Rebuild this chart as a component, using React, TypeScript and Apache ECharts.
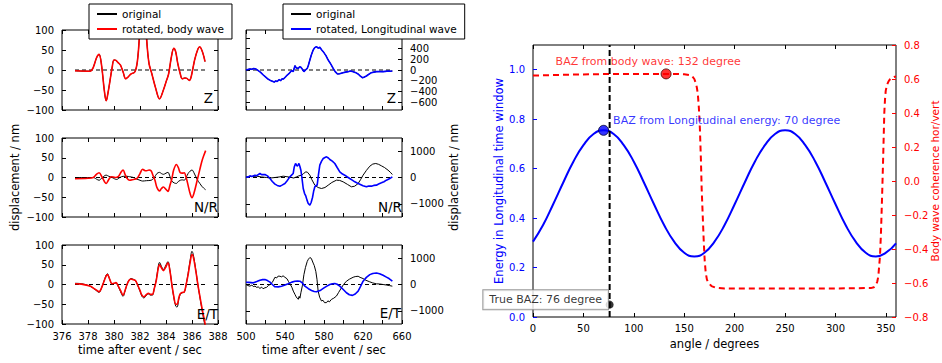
import React, { useEffect, useRef } from 'react';
import * as echarts from 'echarts';

const FONT = '"DejaVu Sans", "Liberation Sans", sans-serif';
const BLUE = '#0000ff';
const RED = '#ff0000';
const BLACK = '#000000';

// ---------- tick values ----------
const bodyTimeTicks = [376, 378, 380, 382, 384, 386, 388];
const longTimeTicks = [500, 520, 540, 560, 580, 600, 620, 640, 660];
const longTimeLabels = [500, 540, 580, 620, 660];
const bodyAmpTicks = [-100, -50, 0, 50, 100];
const longZTicks = [-600, -400, -200, 0, 200, 400, 600];
const longZLabels = [-600, -400, -200, 0, 200, 400];
const longNETicks = [-1000, 0, 1000];
const angleTicks = [0, 50, 100, 150, 200, 250, 300, 350];
const energyTicks = [0, 0.2, 0.4, 0.6, 0.8, 1.0];
const coherenceTicks = [-0.8, -0.6, -0.4, -0.2, 0, 0.2, 0.4, 0.6, 0.8];
const componentLabels = ['Z', 'N/R', 'E/T'];

// ---------- body wave window [time s, displacement nm] ----------
const bodyZRotated = [[377.0,-2],[378.15,-3],[378.4,6],[378.65,30],[378.85,39],[379.05,10],[379.25,-50],[379.4,-77],[379.55,-55],[379.7,-25],[379.85,5],[380.0,25],[380.15,24],[380.3,19],[380.5,12],[380.7,-5],[380.9,-22],[381.1,-17],[381.3,-10],[381.6,-5],[381.8,22],[381.95,80],[382.1,140],[382.25,165],[382.4,130],[382.55,60],[382.7,15],[382.9,-8],[383.2,-45],[383.5,-72],[383.8,-50],[384.0,-30],[384.2,-10],[384.4,30],[384.6,54],[384.75,45],[384.9,17],[385.1,-10],[385.25,-22],[385.45,-20],[385.6,-21],[385.8,-26],[385.95,-15],[386.2,25],[386.45,52],[386.6,58],[386.75,50],[386.9,35],[387.0,21]];
const bodyZOriginal = bodyZRotated;
const bodyNRotated = [[377.0,-3],[378.0,-2],[378.4,0],[378.65,8],[378.85,12],[379.1,0],[379.4,-15],[379.6,-5],[379.8,2],[380.1,0],[380.35,3],[380.55,14],[380.7,19],[380.85,8],[381.0,-2],[381.2,-7],[381.5,-5],[381.75,-3],[382.0,10],[382.2,21],[382.35,18],[382.5,17],[382.7,19],[382.85,17],[383.0,5],[383.15,-7],[383.3,-25],[383.5,-34],[383.65,-28],[383.8,-24],[384.0,-30],[384.15,-35],[384.3,-20],[384.45,-3],[384.6,20],[384.8,33],[384.95,25],[385.1,12],[385.25,11],[385.4,12],[385.55,0],[385.7,-20],[385.85,-40],[386.0,-51],[386.15,-40],[386.4,-7],[386.6,20],[386.75,40],[386.9,55],[387.05,68]];
const bodyNOriginal = [[377.0,0],[378.4,0],[378.65,-4],[378.85,-7],[379.1,0],[379.4,6],[379.6,3],[379.85,0],[380.2,-5],[380.45,0],[380.7,3],[381.0,3],[381.2,2],[381.5,0],[381.75,-4],[382.0,-7],[382.2,-9],[382.5,-8],[382.85,-7],[383.1,0],[383.3,10],[383.5,13],[383.65,10],[383.8,8],[384.0,11],[384.15,13],[384.3,3],[384.45,-9],[384.65,-14],[384.8,-15],[384.95,-10],[385.1,-7],[385.25,-6],[385.4,-7],[385.55,0],[385.7,10],[385.85,16],[386.0,19],[386.15,12],[386.4,-5],[386.6,-15],[386.75,-22],[386.9,-27],[387.05,-31]];
const bodyERotated = [[377.0,2],[377.5,1],[378.15,-4],[378.55,-12],[378.85,-18],[379.05,-8],[379.2,5],[379.4,22],[379.5,25],[379.65,15],[379.85,2],[380.0,3],[380.15,5],[380.3,-2],[380.5,-15],[380.7,-27],[380.85,-15],[381.0,0],[381.15,10],[381.3,14],[381.5,12],[381.65,10],[381.8,0],[382.0,-15],[382.15,-27],[382.3,-31],[382.5,-25],[382.65,-22],[382.8,-25],[382.95,-25],[383.1,-10],[383.25,10],[383.4,40],[383.5,50],[383.65,42],[383.8,35],[383.95,42],[384.15,55],[384.3,35],[384.45,0],[384.6,-30],[384.75,-50],[384.85,-50],[385.0,-32],[385.1,-23],[385.25,-20],[385.4,-19],[385.55,0],[385.7,25],[385.85,55],[386.0,76],[386.1,70],[386.3,33],[386.45,0],[386.6,-29],[386.8,-65],[387.0,-98],[387.1,-115]];
const bodyEOriginal = [[377.0,3],[377.5,2],[378.15,-4],[378.55,-13],[378.85,-20],[379.05,-8],[379.2,6],[379.4,24],[379.5,27],[379.65,15],[379.85,1],[380.0,2],[380.15,4],[380.3,-3],[380.5,-18],[380.7,-30],[380.85,-16],[381.0,0],[381.15,11],[381.3,15],[381.5,13],[381.65,10],[381.8,0],[382.0,-17],[382.15,-30],[382.3,-34],[382.5,-27],[382.65,-24],[382.8,-27],[382.95,-27],[383.1,-10],[383.25,12],[383.4,45],[383.5,56],[383.65,46],[383.8,38],[383.95,46],[384.15,58],[384.3,37],[384.45,0],[384.6,-33],[384.75,-55],[384.85,-57],[385.0,-35],[385.1,-25],[385.25,-21],[385.4,-20],[385.55,0],[385.7,28],[385.85,60],[386.0,84],[386.1,76],[386.3,35],[386.45,0],[386.6,-31],[386.8,-70],[387.0,-105],[387.1,-120]];

// ---------- longitudinal window [time s, displacement nm] ----------
const longZRotated = [[500,0],[502,10],[504,20],[506,15],[508,28],[510,20],[512.6,-12],[515,-45],[517.7,-94],[520,-130],[522.9,-175],[525,-195],[527,-210],[529,-225],[530.5,-205],[532,-215],[534,-180],[535.5,-200],[537,-165],[538.2,-170],[540,-140],[542.3,-94],[544,-70],[545.7,-31],[547,-10],[548.5,-30],[550.2,81],[551.5,40],[553.6,30],[555,60],[556.3,50],[558,10],[559.4,-31],[561,0],[562.8,30],[564,90],[565.5,187],[567,280],[568.9,375],[570.5,420],[572.3,437],[574,410],[575.7,425],[577.5,380],[579.2,344],[582,270],[584.3,187],[587,110],[589.4,30],[591.5,-30],[593.8,-75],[596,-70],[599.6,-50],[602,-40],[604.7,-31],[607,-20],[609.9,-31],[612,-45],[615,-75],[617,-110],[619.4,-144],[621,-135],[623.5,-112],[626,-80],[628.6,-50],[631,-40],[633.8,-31],[637,-28],[640.6,-31],[643,-25],[645.7,-19],[648,-22],[650.1,-19]];
const longZOriginal = longZRotated;
const longNRotated = [[500,25],[502,10],[504,63],[506,40],[509.2,89],[511,70],[514.3,152],[516,110],[519.4,114],[522,60],[524.6,-38],[527,-150],[529.7,-253],[532,-300],[534.8,-329],[537,-290],[539.9,-228],[542,-130],[545,25],[547,100],[548.4,152],[549.5,400],[550.8,532],[552.5,430],[553.5,480],[554.3,532],[555.3,420],[556.3,278],[557.5,-50],[558.7,-418],[560,-600],[561.4,-709],[562.5,-850],[563.8,-987],[565.5,-1050],[566.8,-950],[568.2,-760],[569.5,-500],[570.6,-354],[572,-300],[573,-291],[574.3,100],[575.7,468],[577.5,620],[579.2,721],[581,760],[582.6,785],[584.5,740],[586,683],[588.5,620],[591.1,532],[593.5,380],[596.2,215],[599,130],[601.3,89],[604,20],[606.4,-38],[609,-100],[611.6,-164],[614,-210],[616.7,-253],[620,-310],[623.5,-354],[626,-320],[628.6,-329],[631,-300],[633.8,-291],[636,-250],[638.9,-203],[641.5,-160],[644,-101],[647,-50],[650.1,25]];
const longNOriginal = [[500,25],[505,40],[510.9,50],[516,20],[521.2,0],[525,-20],[529.7,0],[534,20],[538.2,50],[542,30],[546.7,0],[549,-20],[551.9,25],[554,60],[557,89],[559,150],[561.4,215],[563,200],[565.5,89],[567.5,-80],[570.6,-291],[574,-380],[577.4,-418],[581,-380],[584.3,-291],[588,-190],[592.8,-101],[596,-110],[599.6,-164],[604,-260],[608.1,-354],[611.5,-330],[615,-228],[617.5,-80],[620.1,89],[623.5,270],[627,430],[630,510],[633.1,532],[636,500],[638.9,443],[642,380],[645.7,278],[648,200],[650.1,114]];
const longERotated = [[500,88],[503,80],[507.5,63],[511,110],[514.3,163],[517,185],[519.4,188],[522,150],[524.6,88],[527,0],[529.7,-88],[533,-90],[536.5,-63],[540,-20],[543.3,25],[547,90],[550.2,125],[553,135],[555.3,125],[558,50],[560.4,-63],[564,-160],[567.2,-225],[570,-265],[572.3,-275],[576,-230],[579.2,-150],[582.5,-70],[586,0],[588.5,30],[591.1,38],[593.5,10],[596.2,-63],[600,-200],[603,-313],[606,-390],[609.2,-413],[612,-360],[615,-250],[617.5,-70],[620.1,125],[623.5,270],[627,375],[630,420],[633.8,438],[637,410],[640.6,350],[644,280],[646.7,225],[650.1,125]];
const longEOriginal = [[500,0],[502,-40],[504,-63],[506,-20],[507.5,-80],[509.2,-63],[511,-110],[512.5,-90],[514.3,-150],[516,-100],[517.5,-160],[519.4,-125],[521,-110],[523,-40],[524.6,0],[527,80],[529.7,275],[531.5,250],[533,320],[534.8,313],[536.5,290],[538,330],[539.9,275],[542,220],[543.5,120],[545,25],[547,-100],[548.5,-250],[550.2,-375],[551.5,-470],[552.5,-520],[553.6,-563],[554.5,-450],[555.3,-520],[556.3,-313],[557.8,-50],[559.4,375],[561,650],[562.8,875],[564,960],[565.5,1025],[567,990],[568.9,813],[570,720],[571.6,500],[572.8,200],[574,-250],[575.5,-480],[577.4,-625],[579,-600],[580.5,-690],[582.6,-688],[584,-620],[585.5,-660],[587.7,-563],[590,-520],[592.8,-438],[595,-300],[597.9,-125],[600,0],[603,125],[606,200],[609.9,275],[612,300],[615,313],[617,270],[620.1,225],[623,160],[627,100],[630,60],[633.8,25],[637,20],[640.6,0],[644,-20],[647,-40],[650.1,-63]];

// ---------- back-azimuth scan ----------
const angleDeg = [0,10,20,30,40,50,60,70,80,90,100,110,120,130,140,150,160,170,180,190,200,210,220,230,240,250,260,270,280,290,300,310,320,330,340,350,360];
const energy = [0.305,0.372,0.456,0.544,0.628,0.695,0.740,0.755,0.740,0.695,0.628,0.544,0.456,0.372,0.305,0.260,0.245,0.260,0.305,0.372,0.456,0.544,0.628,0.695,0.740,0.755,0.740,0.695,0.628,0.544,0.456,0.372,0.305,0.260,0.245,0.260,0.298];
const coherence = [[0,0.62],[20,0.623],[40,0.626],[60,0.628],[80,0.63],[100,0.63],[120,0.63],[140,0.63],[150,0.628],[155,0.623],[158,0.615],[160,0.6],[161.5,0.575],[162.5,0.55],[163.5,0.51],[164.5,0.43],[165.5,0.31],[166.5,0.13],[167.3,-0.05],[168.3,-0.2],[169.3,-0.35],[170.3,-0.47],[171.3,-0.54],[172.5,-0.58],[174,-0.6],[177,-0.618],[181,-0.627],[190,-0.632],[220,-0.632],[260,-0.632],[300,-0.632],[330,-0.63],[335,-0.63],[338,-0.625],[340,-0.615],[341.5,-0.59],[342.5,-0.56],[343.3,-0.5],[344.1,-0.445],[345,-0.32],[345.8,-0.17],[346.4,-0.05],[347.2,0.12],[347.8,0.26],[348.4,0.4],[349.1,0.48],[349.8,0.53],[351,0.565],[352.5,0.585],[354,0.598],[356,0.607],[358,0.612],[360,0.615]];
const bazLongitudinal = [70, 0.755];
const bazBody = [132, 0.63];
const bazTrue = [76, 0.05];
const trueBazLine = [[76, 0], [76, 1.1]];

// ---------- layout ----------
const ROWS = [{ top: 30, height: 80 }, { top: 138, height: 79 }, { top: 245, height: 79 }];
const COLS = [{ left: 62, width: 156 }, { left: 246, width: 156 }];

const fmt = (d: number) => (v: number) => (v < 0 ? '\u2212' : '') + Math.abs(v).toFixed(d);
const txt = (size: number, color = BLACK) => ({ fontFamily: FONT, fontSize: size, color });

function axisX(gridIndex: number, min: number, max: number, ticks: number[], labels: number[], show: boolean, position: string, extra: any = {}) {
  return {
    type: 'value', gridIndex, min, max, position,
    axisLine: { show: false, onZero: false }, splitLine: { show: false },
    axisTick: { show: true, inside: true, length: 4, customValues: ticks, lineStyle: { color: BLACK, width: 1 } },
    axisLabel: { show, customValues: labels, margin: 7, formatter: fmt(0), ...txt(10) },
    nameMoveOverlap: false,
    ...extra,
  };
}
function axisY(gridIndex: number, min: number, max: number, ticks: number[], labels: number[], show: boolean, position: string, extra: any = {}, tickColor = BLACK, labelColor = BLACK, dec = 0) {
  return {
    type: 'value', gridIndex, min, max, position,
    axisLine: { show: false, onZero: false }, splitLine: { show: false },
    axisTick: { show: true, inside: true, length: 4, customValues: ticks, lineStyle: { color: tickColor, width: 1 } },
    axisLabel: { show, customValues: labels, margin: 8, formatter: fmt(dec), ...txt(10, labelColor) },
    nameMoveOverlap: false,
    ...extra,
  };
}

function line(name: string, data: any, xi: number, yi: number, color: string, width: number, extra: any = {}) {
  return {
    type: 'line', name, data, xAxisIndex: xi, yAxisIndex: yi, symbol: 'none', showSymbol: false,
    lineStyle: { color, width }, itemStyle: { color }, emphasis: { disabled: true }, silent: true,
    ...extra,
  };
}

function buildOption() {
  const grids: any[] = [];
  const xAxes: any[] = [];
  const yAxes: any[] = [];
  const series: any[] = [];
  const graphics: any[] = [];

  const panels = [
    { col: 0, row: 0, orig: bodyZOriginal, rot: bodyZRotated, name: 'rotated, body wave', color: RED, yMin: -100, yMax: 100, yTicks: bodyAmpTicks, yLabels: bodyAmpTicks },
    { col: 0, row: 1, orig: bodyNOriginal, rot: bodyNRotated, name: 'rotated, body wave', color: RED, yMin: -100, yMax: 100, yTicks: bodyAmpTicks, yLabels: bodyAmpTicks },
    { col: 0, row: 2, orig: bodyEOriginal, rot: bodyERotated, name: 'rotated, body wave', color: RED, yMin: -100, yMax: 100, yTicks: bodyAmpTicks, yLabels: bodyAmpTicks },
    { col: 1, row: 0, orig: longZOriginal, rot: longZRotated, name: 'rotated, Longitudinal wave', color: BLUE, yMin: -750, yMax: 750, yTicks: longZTicks, yLabels: longZLabels },
    { col: 1, row: 1, orig: longNOriginal, rot: longNRotated, name: 'rotated, Longitudinal wave', color: BLUE, yMin: -1500, yMax: 1500, yTicks: longNETicks, yLabels: longNETicks },
    { col: 1, row: 2, orig: longEOriginal, rot: longERotated, name: 'rotated, Longitudinal wave', color: BLUE, yMin: -1500, yMax: 1500, yTicks: longNETicks, yLabels: longNETicks },
  ];

  const cornerPos = [
    [[213, 105], [218, 213.5], [218, 321]],
    [[396, 105], [402, 213.5], [401, 320]],
  ];

  panels.forEach((p, g) => {
    const c = COLS[p.col];
    const r = ROWS[p.row];
    grids.push({ left: c.left, top: r.top, width: c.width, height: r.height, show: true, borderColor: BLACK, borderWidth: 1, backgroundColor: 'transparent', outerBoundsMode: 'none', containLabel: false });
    const isBody = p.col === 0;
    const bottom = p.row === 2;
    const xMin = isBody ? 376 : 500;
    const xMax = isBody ? 388 : 660;
    const xTicks = isBody ? bodyTimeTicks : longTimeTicks;
    const xLabels = isBody ? bodyTimeTicks : longTimeLabels;
    const xName = bottom ? { name: 'time after event / sec', nameLocation: 'middle', nameGap: 20, nameTextStyle: txt(11.5) } : {};
    xAxes.push(axisX(g, xMin, xMax, xTicks, xLabels, bottom, 'bottom', xName));
    xAxes.push(axisX(g, xMin, xMax, xTicks, xLabels, false, 'top'));
    const yName = p.row === 1 ? { name: 'displacement / nm', nameLocation: 'middle', nameGap: isBody ? 41 : 46, nameTextStyle: txt(11.5) } : {};
    yAxes.push(axisY(g, p.yMin, p.yMax, p.yTicks, p.yLabels, true, isBody ? 'left' : 'right', yName));
    yAxes.push(axisY(g, p.yMin, p.yMax, p.yTicks, p.yLabels, false, isBody ? 'right' : 'left'));

    const xi = 2 * g, yi = 2 * g;
    const t0 = p.rot[0][0];
    const t1 = p.rot[p.rot.length - 1][0];
    series.push(line('zero', [[t0, 0], [Math.min(t1, isBody ? 387 : 650), 0]], xi, yi, BLACK, 1, { lineStyle: { color: BLACK, width: 1, type: [4, 3] } }));
    series.push(line('original', p.orig, xi, yi, BLACK, 1, { smooth: isBody ? 0.35 : false }));
    series.push(line(p.name, p.rot, xi, yi, p.color, 1.6, { smooth: isBody ? 0.35 : false }));

    const [cx, cy] = cornerPos[p.col][p.row];
    graphics.push({ type: 'text', x: cx, y: cy, z: 20, style: { text: componentLabels[p.row], align: 'right', verticalAlign: 'bottom', fontFamily: FONT, fontSize: 13.5, fill: BLACK } });
  });

  // big back-azimuth chart (grid 6)
  grids.push({ left: 533, top: 45, width: 363, height: 272, show: true, borderColor: BLACK, borderWidth: 1, backgroundColor: 'transparent', outerBoundsMode: 'none', containLabel: false });
  xAxes.push(axisX(6, 0, 360, angleTicks, angleTicks, true, 'bottom', { name: 'angle / degrees', nameLocation: 'middle', nameGap: 21, nameTextStyle: txt(11.5), axisLabel: { show: true, customValues: angleTicks, margin: 6, formatter: fmt(0), ...txt(10) } }));
  xAxes.push(axisX(6, 0, 360, angleTicks, angleTicks, false, 'top'));
  yAxes.push(axisY(6, 0, 1.1, energyTicks, energyTicks, true, 'left', { name: 'Energy in Longitudinal time window', nameLocation: 'middle', nameGap: 28, nameTextStyle: txt(11.5, BLUE) }, BLUE, BLUE, 1));
  yAxes.push(axisY(6, -0.8, 0.8, coherenceTicks, coherenceTicks, true, 'right', { name: 'Body wave coherence hor/vert', nameLocation: 'middle', nameGap: 33, nameTextStyle: { ...txt(10.5, RED), lineHeight: 12 } }, RED, RED, 1));

  series.push(line('energy', angleDeg.map((a, i) => [a, energy[i]]), 12, 12, BLUE, 2, { smooth: true }));
  series.push(line('coherence', coherence, 12, 13, RED, 2, { lineStyle: { color: RED, width: 2, type: [6, 4] } }));
  series.push(line('true baz', trueBazLine, 12, 12, BLACK, 2, { lineStyle: { color: BLACK, width: 2, type: [6, 3] } }));
  series.push({
    type: 'scatter', name: 'baz body', xAxisIndex: 12, yAxisIndex: 13, data: [bazBody], symbolSize: 10, z: 5,
    itemStyle: { color: RED, borderColor: '#400000', borderWidth: 1 }, silent: true, emphasis: { disabled: true },
    label: { show: true, formatter: 'BAZ from body wave: 132 degree', position: [-105, -7], align: 'left', verticalAlign: 'middle', ...txt(11, RED) },
  });
  series.push({
    type: 'scatter', name: 'baz long', xAxisIndex: 12, yAxisIndex: 12, data: [bazLongitudinal], symbolSize: 10, z: 5,
    itemStyle: { color: BLUE, borderColor: '#000030', borderWidth: 1 }, silent: true, emphasis: { disabled: true },
    label: { show: true, formatter: 'BAZ from Longitudinal energy: 70 degree', position: [15, -4], align: 'left', verticalAlign: 'middle', ...txt(11, BLUE) },
  });
  series.push({
    type: 'scatter', name: 'baz true', xAxisIndex: 12, yAxisIndex: 12, data: [bazTrue], symbolSize: 8, z: 5,
    itemStyle: { color: BLACK }, silent: true, emphasis: { disabled: true },
    label: { show: true, formatter: 'True BAZ: 76 degree', position: [2.4, -1], align: 'right', verticalAlign: 'middle', backgroundColor: '#fff', borderColor: '#808080', borderWidth: 1, padding: [4, 6, 4, 6], ...txt(11, BLACK) },
  });

  const legendBase = {
    orient: 'vertical', top: 4, backgroundColor: '#fff', borderColor: BLACK, borderWidth: 1, borderRadius: 0,
    padding: [4, 8, 4, 8], itemGap: 3, itemWidth: 20, itemHeight: 2, selectedMode: false, z: 10,
    textStyle: { fontFamily: FONT, fontSize: 10.5, color: BLACK, lineHeight: 12 },
  };

  return {
    animation: false,
    backgroundColor: '#fff',
    grid: grids,
    xAxis: xAxes,
    yAxis: yAxes,
    series,
    legend: [
      { ...legendBase, left: 89, data: [{ name: 'original', icon: 'rect' }, { name: 'rotated, body wave', icon: 'rect' }] },
      { ...legendBase, left: 283, data: [{ name: 'original', icon: 'rect' }, { name: 'rotated, Longitudinal wave', icon: 'rect' }] },
    ],
    graphic: graphics,
  };
}

export default function App() {
  const ref = useRef<HTMLDivElement>(null);
  useEffect(() => {
    if (!ref.current) return;
    const chart = echarts.init(ref.current, undefined, { renderer: 'svg' });
    chart.setOption(buildOption() as any);
    return () => chart.dispose();
  }, []);
  return <div ref={ref} style={{ position: 'fixed', left: 0, top: 0, width: 942, height: 363, background: '#fff' }} />;
}
